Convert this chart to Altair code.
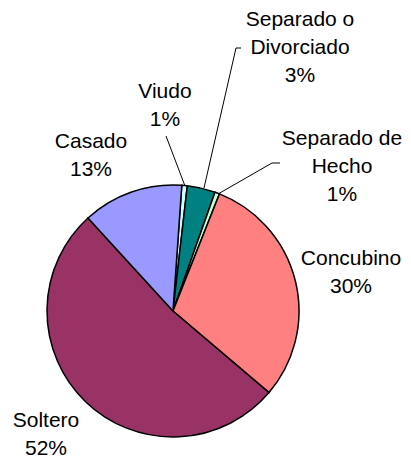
import math
import altair as alt
import pandas as pd

# ---- data ----
categories = ["Viudo", "Separado o Divorciado", "Separado de Hecho", "Concubino", "Soltero", "Casado"]
values = [0.7, 3.6, 0.6, 30.2, 52.0, 12.9]
pct_labels = ["1%", "3%", "1%", "30%", "52%", "13%"]
name_lines = [["Viudo"], ["Separado o", "Divorciado"], ["Separado de", "Hecho"],
              ["Concubino"], ["Soltero"], ["Casado"]]
colors = ["#CCFFFF", "#008080", "#CCFFCC", "#FF8080", "#993366", "#9999FF"]

# ---- layout (page pixels) ----
M = 8
CX, CY, R = 173 - M, 311 - M, 126
START = math.radians(4)
FONT_SIZE = 21
LINE_H = 28
label_pos = {
    "Viudo": (165, 92),
    "Separado o Divorciado": (300, 20),
    "Separado de Hecho": (342, 139),
    "Concubino": (351, 259),
    "Soltero": (46, 421),
    "Casado": (91, 142),
}
leaders = {
    "Viudo": [(166, 136), (185, 186)],
    "Separado o Divorciado": [(241, 48), (236, 48), (204, 188)],
    "Separado de Hecho": [(280, 163), (272, 163), (218, 194)],
}

pie_df = pd.DataFrame({
    "cat": categories,
    "value": values,
    "order": list(range(len(categories))),
})

rows = []
for cat, lines, pct in zip(categories, name_lines, pct_labels):
    x0, y0 = label_pos[cat]
    for i, t in enumerate(lines + [pct]):
        rows.append({"x": x0 - M, "y": y0 + i * LINE_H - M, "t": t})
text_df = pd.DataFrame(rows)

segs = []
for cat, pts in leaders.items():
    for (a, b) in zip(pts[:-1], pts[1:]):
        segs.append({"x": a[0] - M, "y": a[1] - M, "x2": b[0] - M, "y2": b[1] - M})
seg_df = pd.DataFrame(segs)

arcs = alt.Chart(pie_df).mark_arc(
    outerRadius=R, stroke="black", strokeWidth=1.5
).encode(
    theta=alt.Theta("value:Q", stack=True,
                    scale=alt.Scale(range=[START, START + 2 * math.pi])),
    order=alt.Order("order:Q"),
    color=alt.Color("cat:N", scale=alt.Scale(domain=categories, range=colors), legend=None),
    x=alt.value(CX),
    y=alt.value(CY),
)

rules = alt.Chart(seg_df).mark_rule(color="black", strokeWidth=1).encode(
    x=alt.X("x:Q", scale=None, axis=None),
    y=alt.Y("y:Q", scale=None, axis=None),
    x2="x2:Q",
    y2="y2:Q",
)

texts = alt.Chart(text_df).mark_text(
    font="Liberation Sans", fontSize=FONT_SIZE, align="center", baseline="middle", color="black"
).encode(
    x=alt.X("x:Q", scale=None, axis=None),
    y=alt.Y("y:Q", scale=None, axis=None),
    text="t:N",
)

chart = alt.layer(arcs, rules, texts).properties(
    width=395, height=452, padding=0, autosize="none"
).configure_view(stroke=None)

chart.save("out.html", embed_options={"renderer": "svg", "actions": False})
